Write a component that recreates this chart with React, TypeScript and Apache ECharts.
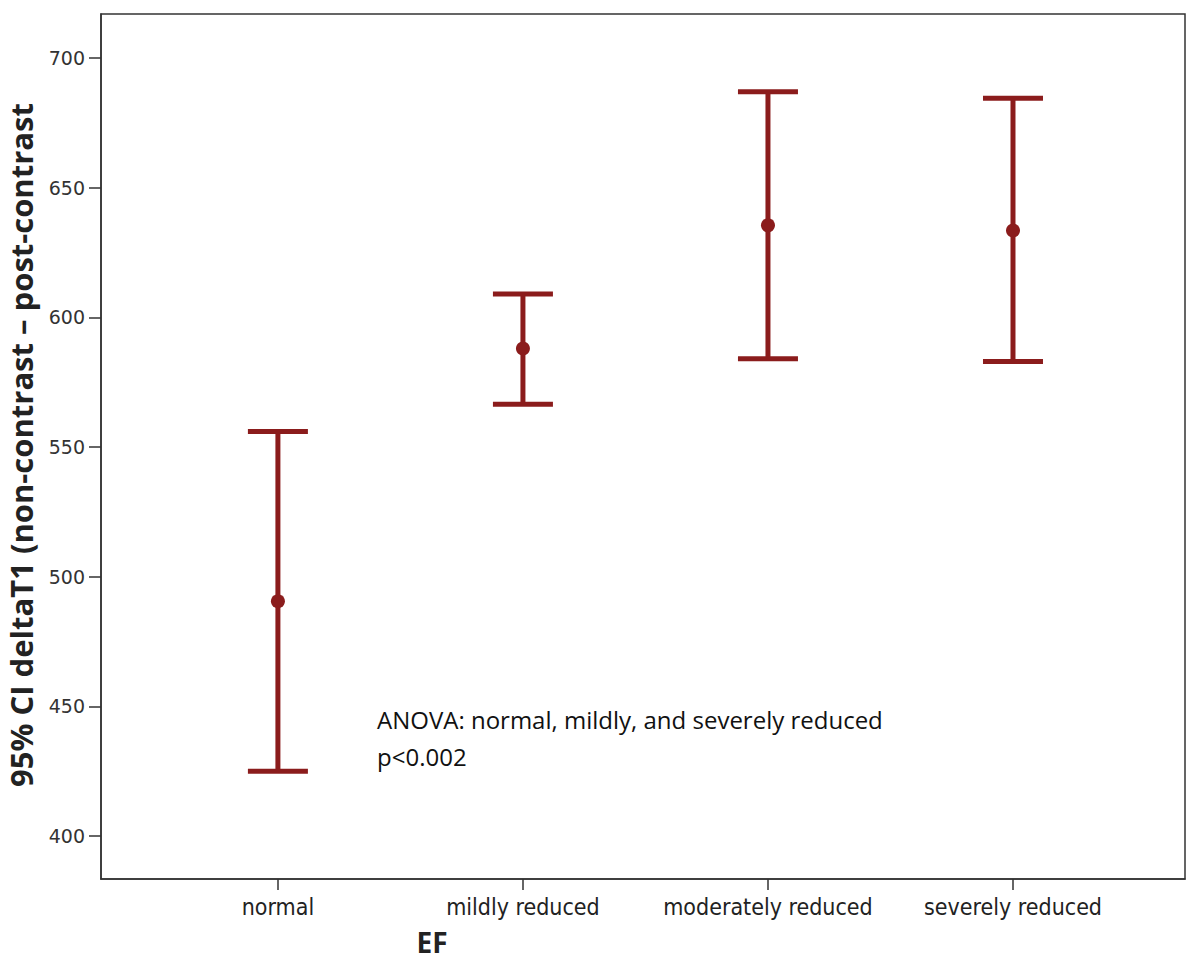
import React, { useEffect, useRef } from "react";
import * as echarts from "echarts";

const categories = ["normal", "mildly reduced", "moderately reduced", "severely reduced"];
const means = [490.5, 588, 635.5, 633.5];
const lowers = [425, 566.5, 584, 583];
const uppers = [556, 609, 687, 684.5];
const yTicks = [400, 450, 500, 550, 600, 650, 700];
const annotationLines = ["ANOVA: normal, mildly, and severely reduced", "p<0.002"];

const RED = "#8b1c1c";

export default function App() {
  const ref = useRef<HTMLDivElement>(null);
  useEffect(() => {
    const chart = echarts.init(ref.current!, null, { renderer: "svg" });
    const data = categories.map((_, i) => [i, lowers[i], uppers[i], means[i]]);
    chart.setOption({
      animation: false,
      backgroundColor: "#ffffff",
      grid: {
        left: 101,
        top: 14,
        right: 15,
        bottom: 84,
        show: true,
        borderColor: "#333",
        borderWidth: 1.5,
        backgroundColor: "transparent",
      },
      xAxis: {
        type: "value",
        min: -0.722,
        max: 3.702,
        splitLine: { show: false },
        axisLine: { show: true, onZero: false, lineStyle: { color: "#333", width: 1.5 } },
        axisTick: { show: true, customValues: [0, 1, 2, 3], length: 11, lineStyle: { color: "#333", width: 1.5 } },
        axisLabel: {
          customValues: [0, 1, 2, 3],
          formatter: (v: number) => categories[Math.round(v)] ?? "",
          fontFamily: "DejaVu Sans Condensed, DejaVu Sans",
          fontSize: 23,
          color: "#222",
          margin: 16,
        },
      },
      yAxis: {
        type: "value",
        min: 383.4,
        max: 717,
        splitLine: { show: false },
        axisLine: { show: true, onZero: false, lineStyle: { color: "#333", width: 1.5 } },
        axisTick: { show: true, customValues: yTicks, length: 12, lineStyle: { color: "#333", width: 1.5 } },
        axisLabel: {
          customValues: yTicks,
          fontFamily: "DejaVu Sans",
          fontSize: 19,
          color: "#333",
          margin: 16,
        },
      },
      graphic: [
        {
          type: "text",
          rotation: Math.PI / 2,
          x: 21,
          y: 445,
          style: {
            text: "95% CI deltaT1 (non-contrast – post-contrast",
            font: "bold 31px 'Open Sans', sans-serif",
            fill: "#222",
            textAlign: "center",
            textVerticalAlign: "middle",
          },
        },
        {
          type: "text",
          x: 432,
          y: 942,
          style: {
            text: "EF",
            font: "bold 28px 'Open Sans', sans-serif",
            fill: "#222",
            textAlign: "center",
            textVerticalAlign: "middle",
          },
        },
        {
          type: "text",
          x: 377,
          y: 701,
          style: {
            text: annotationLines.join("\n"),
            font: "24px 'Open Sans', sans-serif",
            lineHeight: 37,
            fill: "#111",
          },
        },
      ],
      series: [
        {
          type: "custom",
          data,
          encode: { x: 0, y: [1, 2, 3] },
          renderItem: (params: any, api: any) => {
            const x = api.value(0);
            const lo = api.coord([x, api.value(1)]);
            const hi = api.coord([x, api.value(2)]);
            const mid = api.coord([x, api.value(3)]);
            const half = 30;
            const style = { stroke: RED, lineWidth: 5, fill: "none" };
            return {
              type: "group",
              children: [
                { type: "line", shape: { x1: hi[0], y1: hi[1], x2: lo[0], y2: lo[1] }, style },
                { type: "line", shape: { x1: hi[0] - half, y1: hi[1], x2: hi[0] + half, y2: hi[1] }, style },
                { type: "line", shape: { x1: lo[0] - half, y1: lo[1], x2: lo[0] + half, y2: lo[1] }, style },
                { type: "circle", shape: { cx: mid[0], cy: mid[1], r: 7 }, style: { fill: RED } },
              ],
            };
          },
        },
      ],
    });
    return () => chart.dispose();
  }, []);
  return (
    <div
      ref={ref}
      style={{ position: "fixed", left: 0, top: 0, width: 1200, height: 963 }}
    />
  );
}
